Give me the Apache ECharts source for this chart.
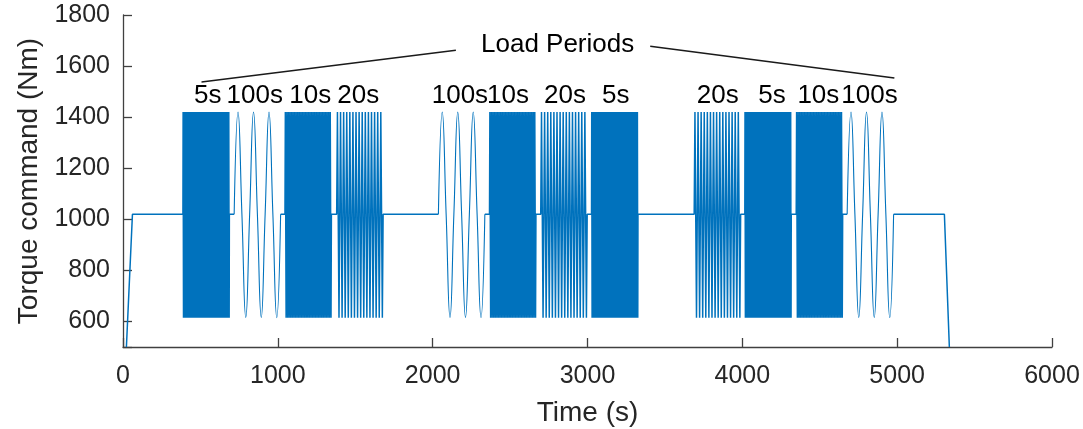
<!DOCTYPE html>
<html>
<head>
<meta charset="utf-8">
<script src="https://cdn.jsdelivr.net/npm/echarts@6/dist/echarts.min.js"></script>
<style>
  html, body { margin: 0; padding: 0; background: #ffffff; }
  #chart { width: 1083px; height: 429px; }
</style>
</head>
<body>
<div id="chart"></div>
<script>
// ---------------- data ----------------
// x-axis ticks (s) and y-axis ticks (Nm)
const xTicks = [0, 1000, 2000, 3000, 4000, 5000, 6000];
const yTicks = [600, 800, 1000, 1200, 1400, 1600, 1800];

// torque levels (Nm)
const flatLevel = 1020;
const peakLevel = 1420;
const troughLevel = 615;

// start ramp and end ramp points [time s, torque Nm]
const rampUp = [[22, 500], [61, 1020]];
const rampDown = [[5305, 1020], [5337, 500]];

// load blocks: start time (s), oscillation period (s), block length (s)
const blockStarts  = [387, 718, 1046, 1380, 2037, 2367, 2698, 3026, 3689, 4016, 4348, 4677];
const blockPeriods = [5, 100, 10, 20, 100, 10, 20, 5, 20, 5, 10, 100];
const blockLength  = 300;

// period labels and their time positions
const periodLabels = ['5s', '100s', '10s', '20s', '100s', '10s', '20s', '5s', '20s', '5s', '10s', '100s'];
const periodLabelTimes = [548, 851, 1209, 1519, 2176, 2487, 2855, 3182, 3841, 4191, 4491, 4821];
const periodLabelLevel = 1482;

// "Load Periods" annotation: text anchor and two leader lines [time, torque]
const titleText = 'Load Periods';
const titlePoint = [2807, 1685];
const leaderLeft  = [[507, 1538], [2150, 1662]];
const leaderRight = [[3405, 1678], [4982, 1553]];

// ---------------- build series from the values above ----------------
const lineColor = '#0072BD';
const mainData = [];
const slowSeries = [];
rampUp.forEach(p => mainData.push(p));
blockStarts.forEach((s, i) => {
  const P = blockPeriods[i];
  const n = Math.round(blockLength / P);
  const e = s + n * P;
  if (P >= 100) {
    mainData.push([s, flatLevel]);
    mainData.push([s + blockLength / 2, '-']);
    const d = [[s, flatLevel]];
    for (let k = 0; k < n; k++) {
      const t0 = s + k * P;
      d.push([t0 + P / 4, peakLevel]);
      d.push([t0 + P / 2, flatLevel]);
      d.push([t0 + 3 * P / 4, troughLevel]);
      d.push([t0 + P, flatLevel]);
    }
    slowSeries.push(d);
    mainData.push([e, flatLevel]);
  } else {
    mainData.push([s, flatLevel]);
    for (let k = 0; k < n; k++) {
      const t0 = s + k * P;
      mainData.push([t0 + P / 4, peakLevel]);
      mainData.push([t0 + 3 * P / 4, troughLevel]);
    }
    mainData.push([e, flatLevel]);
  }
});
rampDown.forEach(p => mainData.push(p));

const textColor = '#262626';
const axisColor = '#404040';
const fontFamily = 'Liberation Sans, Arial, Helvetica, sans-serif';

const series = [{
  type: 'line',
  name: 'torque',
  data: mainData,
  showSymbol: false,
  symbol: 'none',
  connectNulls: false,
  lineStyle: { color: lineColor, width: 1.5 },
  itemStyle: { color: lineColor },
  silent: true,
  z: 2,
  markLine: {
    silent: true,
    symbol: ['none', 'none'],
    label: { show: false },
    lineStyle: { color: '#1a1a1a', width: 1.5, type: 'solid' },
    data: [
      [{ coord: leaderLeft[0] }, { coord: leaderLeft[1] }],
      [{ coord: leaderRight[0] }, { coord: leaderRight[1] }]
    ]
  }
}];
slowSeries.forEach((d, i) => {
  series.push({
    type: 'line',
    name: 'slow' + i,
    data: d,
    smooth: 0.5,
    showSymbol: false,
    symbol: 'none',
    lineStyle: { color: lineColor, width: 1.1 },
    itemStyle: { color: lineColor },
    silent: true,
    z: 2
  });
});
// text annotations
const labelData = periodLabels.map((txt, i) => ({ value: [periodLabelTimes[i], periodLabelLevel], name: txt }));
labelData.push({ value: titlePoint, name: titleText });
series.push({
  type: 'scatter',
  name: 'labels',
  data: labelData,
  symbolSize: 0,
  silent: true,
  z: 5,
  itemStyle: { color: '#000000', opacity: 1 },
  label: {
    show: true,
    position: 'inside',
    formatter: p => p.name,
    color: '#000000',
    opacity: 1,
    textBorderWidth: 0,
    textBorderColor: 'transparent',
    fontSize: 26,
    fontFamily: fontFamily
  }
});

const chart = echarts.init(document.getElementById('chart'), null, { renderer: 'canvas' });
chart.setOption({
  animation: false,
  backgroundColor: '#ffffff',
  grid: { left: 123, right: 31, top: 15, bottom: 82, containLabel: false, outerBoundsMode: 'none' },
  xAxis: {
    type: 'value',
    min: xTicks[0],
    max: xTicks[xTicks.length - 1],
    interval: xTicks[1] - xTicks[0],
    name: 'Time (s)',
    nameLocation: 'middle',
    nameGap: 52,
    nameTextStyle: { color: textColor, fontSize: 28, fontFamily: fontFamily },
    axisLine: { show: true, lineStyle: { color: axisColor, width: 1.3 } },
    axisTick: { show: true, inside: true, length: 9, lineStyle: { color: axisColor, width: 1.3 } },
    axisLabel: { color: textColor, fontSize: 25, fontFamily: fontFamily, margin: 17, formatter: v => String(v) },
    splitLine: { show: false }
  },
  yAxis: {
    type: 'value',
    min: 500,
    max: yTicks[yTicks.length - 1],
    splitNumber: 6,
    minInterval: yTicks[1] - yTicks[0],
    maxInterval: yTicks[1] - yTicks[0],
    name: 'Torque command (Nm)',
    nameLocation: 'middle',
    nameGap: 80,
    nameTextStyle: { color: textColor, fontSize: 28, fontFamily: fontFamily },
    axisLine: { show: true, lineStyle: { color: axisColor, width: 1.3 } },
    axisTick: { show: true, inside: true, length: 9, lineStyle: { color: axisColor, width: 1.3 } },
    axisLabel: {
      color: textColor, fontSize: 25, fontFamily: fontFamily, margin: 13,
      formatter: v => (yTicks.indexOf(v) >= 0 ? String(v) : '')
    },
    splitLine: { show: false }
  },
  series: series
});
</script>
</body>
</html>
